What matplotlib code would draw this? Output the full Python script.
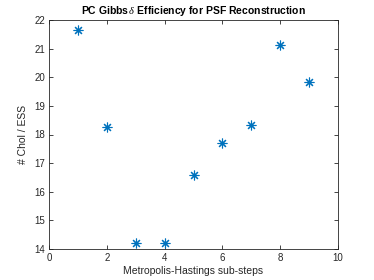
import matplotlib
matplotlib.use("Agg")
import matplotlib.pyplot as plt

steps = [1, 2, 3, 4, 5, 6, 7, 8, 9]
chol_per_ess = [21.66, 18.26, 14.22, 14.22, 16.57, 17.71, 18.34, 21.11, 19.85]
xticks = [0, 2, 4, 6, 8, 10]
yticks = [14, 15, 16, 17, 18, 19, 20, 21, 22]

plt.rcParams['font.family'] = ['Liberation Sans', 'DejaVu Sans']
plt.rcParams['mathtext.fontset'] = 'custom'
plt.rcParams['mathtext.it'] = 'Liberation Serif:italic'

fig = plt.figure(figsize=(3.74, 2.8), dpi=100)
ax = fig.add_axes([49/374, 1 - 249/280, (338-49)/374, (249-20)/280])
ax.plot(steps, chol_per_ess, linestyle='none', marker=(8, 2, 0), markersize=7,
        markeredgewidth=0.8, color='#0072BD')
ax.set_xlim(0, 10)
ax.set_ylim(14, 22)
ax.set_xticks(xticks)
ax.set_yticks(yticks)
edge = '#262626'
for s in ax.spines.values():
    s.set_color(edge)
    s.set_linewidth(0.6)
ax.tick_params(direction='in', length=3, width=0.6, colors=edge, labelsize=7,
               top=True, right=True, pad=3)
ax.set_xlabel('Metropolis-Hastings sub-steps', fontsize=7.5, color=edge, labelpad=2)
ax.set_ylabel('# Chol / ESS', fontsize=7.5, color=edge, labelpad=4)
ax.set_title(r'PC Gibbs$\,\delta$ Efficiency for PSF Reconstruction', fontsize=7.5,
             fontweight='bold', pad=4)
fig.savefig('out.png', dpi=100)
